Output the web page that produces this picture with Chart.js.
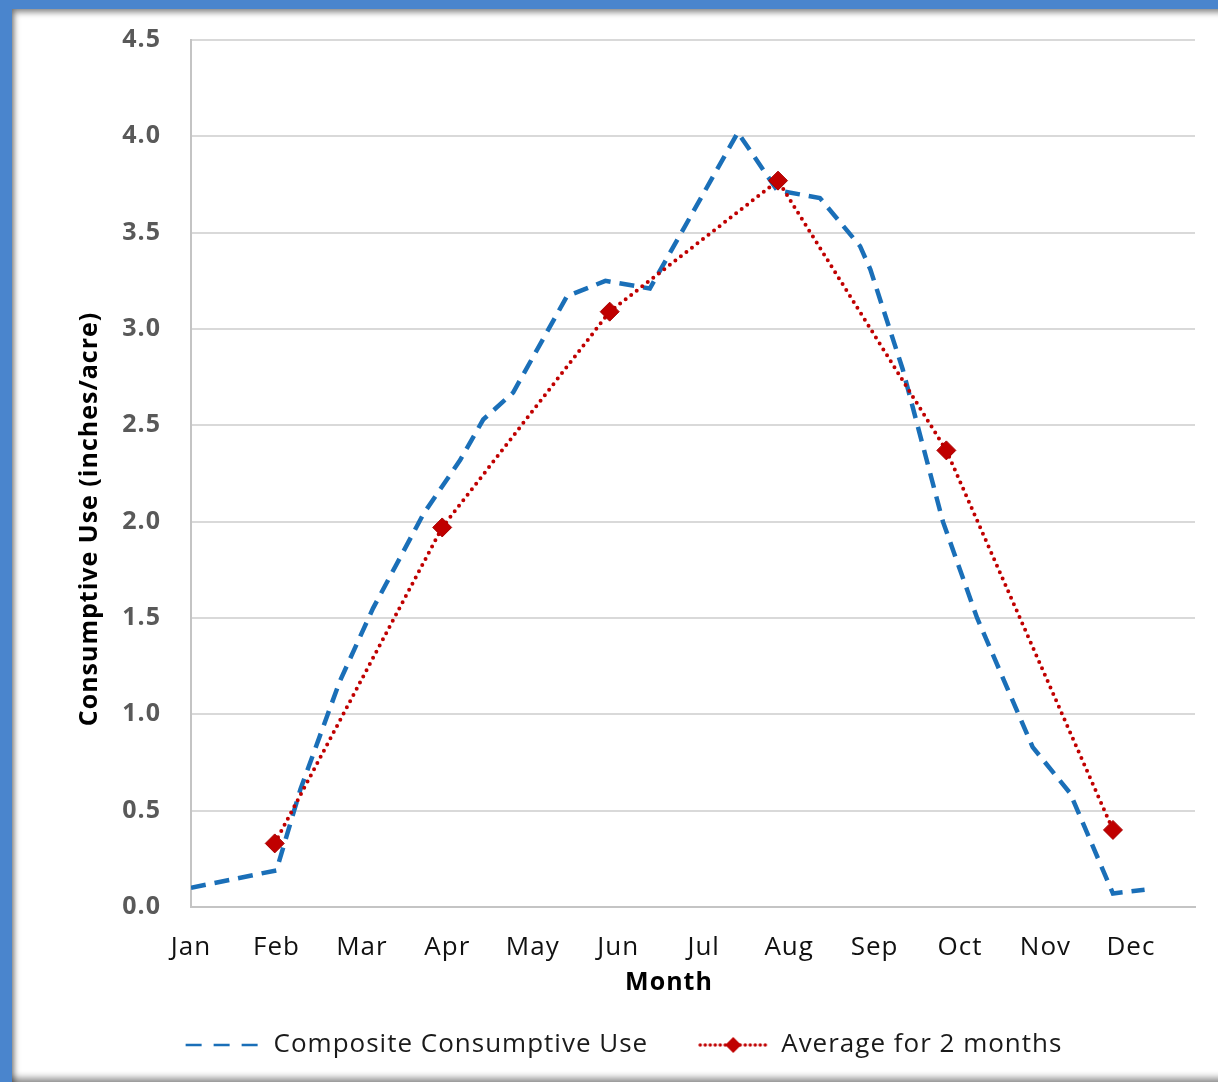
<!DOCTYPE html>
<html>
<head>
<meta charset="utf-8">
<script src="https://cdn.jsdelivr.net/npm/chart.js@4.4.1/dist/chart.umd.min.js"></script>
<style>
  html, body { margin: 0; padding: 0; }
  body { width: 1218px; height: 1082px; overflow: hidden; background: #4a85cd; position: relative; }
  #panel {
    position: absolute; left: 12px; top: 9px; width: 1230px; height: 1073px; background: #fff;
    box-shadow: inset 4px 5px 6px -2px rgba(0,0,0,.5), inset 0 -7px 7px -3px rgba(0,0,0,.45);
  }
  #wrap { position: absolute; left: 0; top: 0; width: 1218px; height: 1082px; }
</style>
</head>
<body>
<div id="panel"></div>
<div id="wrap"><canvas id="graficoConsumo"></canvas></div>
<script>
// eje X: meses (1 = Jan ... 12 = Dec)
const monthLabels = ['Jan', 'Feb', 'Mar', 'Apr', 'May', 'Jun', 'Jul', 'Aug', 'Sep', 'Oct', 'Nov', 'Dec'];

// Composite Consumptive Use (posición en meses, pulgadas/acre)
const compositeMonth = [1.00, 2.00, 2.28, 2.74, 3.13, 3.72, 4.15, 4.42, 4.77, 5.40, 5.85, 6.37,
                        7.40, 7.86, 8.36, 8.83, 8.95, 9.33, 9.80, 10.20, 10.85, 11.29, 11.79, 12.16];
const compositeUse = [0.10, 0.19, 0.61, 1.17, 1.55, 2.04, 2.32, 2.53, 2.67, 3.17, 3.25, 3.21,
                      4.02, 3.72, 3.68, 3.43, 3.31, 2.79, 2.00, 1.50, 0.83, 0.59, 0.07, 0.09];

// Average for 2 months
const averageMonth = [1.98, 3.94, 5.90, 7.87, 9.84, 11.79];
const averageUse = [0.33, 1.97, 3.09, 3.77, 2.37, 0.40];

const xTitle = 'Month';
const yTitle = 'Consumptive Use (inches/acre)';

const blue = '#1a6fb8';
const red = '#c00000';
const fontFamily = '"Open Sans", "Noto Sans", sans-serif';

// muestras de la leyenda (línea discontinua / punteada con rombo)
function legendSample(kind) {
    const c = document.createElement('canvas');
    c.width = 110;
    c.height = 24;
    const g = c.getContext('2d');
    if (kind === 'dash') {
        g.strokeStyle = blue;
        g.lineWidth = 2.5;
        g.setLineDash([16, 12]);
        g.beginPath();
        g.moveTo(35, 12);
        g.lineTo(110, 12);
        g.stroke();
    } else {
        g.strokeStyle = red;
        g.lineWidth = 3.5;
        g.lineCap = 'round';
        g.setLineDash([0, 5]);
        g.beginPath();
        g.moveTo(42, 12);
        g.lineTo(108, 12);
        g.stroke();
        g.setLineDash([]);
        g.fillStyle = red;
        g.beginPath();
        g.moveTo(75 - 8, 12);
        g.lineTo(75, 12 - 8);
        g.lineTo(75 + 8, 12);
        g.lineTo(75, 12 + 8);
        g.closePath();
        g.fill();
    }
    return c;
}
const samples = [legendSample('dash'), legendSample('dot')];

// texto algo más ancho, como en el original
const spacingPlugin = {
    id: 'spacing',
    beforeUpdate: chart => { chart.ctx.letterSpacing = '1px'; },
    beforeDraw: chart => { chart.ctx.letterSpacing = '1px'; }
};

// títulos de los ejes (en el original no están centrados sobre el área del gráfico)
const axisTitlesPlugin = {
    id: 'axisTitles',
    afterDraw: chart => {
        const area = chart.chartArea;
        const c = chart.ctx;
        c.save();
        c.letterSpacing = '1px';
        c.font = 'bold 25px ' + fontFamily;
        c.fillStyle = '#000';
        c.textAlign = 'center';
        c.textBaseline = 'middle';
        c.fillText(xTitle, (area.left + area.right) / 2 - 24, area.bottom + 76);
        c.translate(area.left - 101, area.bottom - 388);
        c.rotate(-Math.PI / 2);
        c.fillText(yTitle, 0, 0);
        c.restore();
    }
};

const ctx = document.getElementById('graficoConsumo').getContext('2d');

const myChart = new Chart(ctx, {
    type: 'line',
    plugins: [spacingPlugin, axisTitlesPlugin],
    data: {
        datasets: [{
            label: 'Composite Consumptive Use',
            data: compositeMonth.map((m, i) => ({x: m, y: compositeUse[i]})),
            borderColor: blue,
            borderWidth: 4.5,
            borderDash: [15, 9],
            pointRadius: 0,
            tension: 0,
            fill: false,
            order: 2
        }, {
            label: 'Average for 2 months',
            data: averageMonth.map((m, i) => ({x: m, y: averageUse[i]})),
            borderColor: red,
            borderWidth: 4,
            borderDash: [0, 7],
            borderCapStyle: 'round',
            pointStyle: 'rectRot',
            pointRadius: 9.5,
            pointBackgroundColor: red,
            pointBorderColor: '#a80000',
            pointBorderWidth: 1,
            tension: 0,
            fill: false,
            order: 1
        }]
    },
    options: {
        responsive: true,
        maintainAspectRatio: false,
        animation: false,
        layout: {padding: {left: 18, right: 23, top: 40, bottom: 14}},
        plugins: {
            tooltip: {enabled: false},
            legend: {
                position: 'bottom',
                labels: {
                    usePointStyle: true,
                    pointStyleWidth: 110,
                    padding: 10,
                    color: '#1a1a1a',
                    font: {family: fontFamily, size: 26},
                    generateLabels: chart => chart.data.datasets.map((ds, i) => ({
                        text: ds.label,
                        pointStyle: samples[i],
                        datasetIndex: i,
                        fontColor: '#1a1a1a',
                        hidden: false,
                        lineWidth: 0,
                        strokeStyle: 'transparent',
                        fillStyle: 'transparent'
                    }))
                }
            }
        },
        scales: {
            x: {
                type: 'linear',
                min: 1,
                max: 12.75,
                afterBuildTicks: scale => {
                    scale.ticks = monthLabels.map((_, i) => ({value: i + 1}));
                },
                afterFit: scale => { scale.height = 115; },
                ticks: {
                    callback: v => monthLabels[v - 1],
                    autoSkip: false,
                    maxRotation: 0,
                    padding: 25,
                    color: '#111',
                    font: {family: fontFamily, size: 26}
                },
                grid: {display: false, drawTicks: false},
                border: {display: true, color: '#c4c4c4', width: 2},
                title: {display: false}
            },
            y: {
                min: 0,
                max: 4.5,
                afterFit: scale => { scale.width = 173; },
                ticks: {
                    stepSize: 0.5,
                    callback: v => v.toFixed(1),
                    padding: 30,
                    color: '#595959',
                    font: {family: fontFamily, size: 25, weight: 'bold', lineHeight: 0.8}
                },
                grid: {color: '#d9d9d9', lineWidth: 2, drawTicks: false},
                border: {display: true, color: '#c4c4c4', width: 2},
                title: {display: false}
            }
        }
    }
});
</script>
</body>
</html>
